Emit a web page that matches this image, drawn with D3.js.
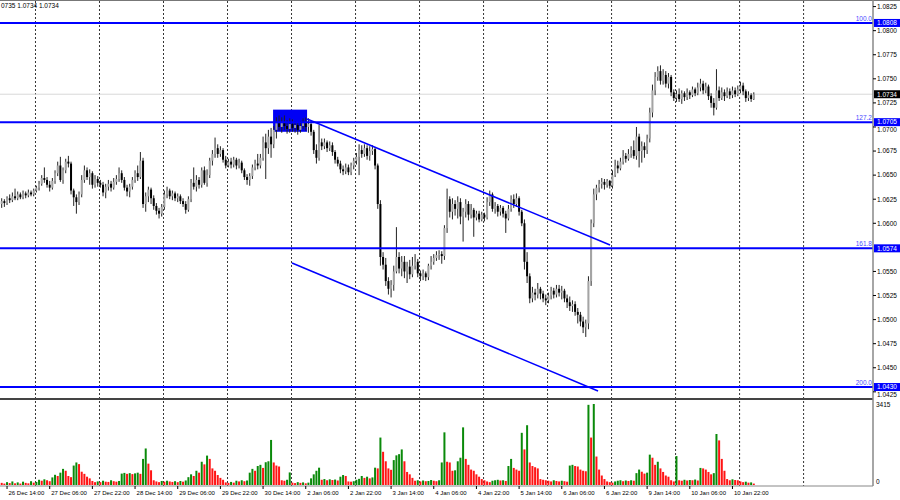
<!DOCTYPE html>
<html>
<head>
<meta charset="utf-8">
<script src="https://cdn.jsdelivr.net/npm/d3@7"></script>
<style>
body { margin: 0; background: #fff; }
svg { display: block; }
text { font-family: "Liberation Sans", Arial, sans-serif; }
</style>
</head>
<body>
<script>
// EURUSD H1, prices kept in pips above 1.0000 (623 -> 1.0623)
const open = [
620,623,621,626,624,628,626,630,627,631,629,632,630,634,637,641,647,645,640,637,
644,652,660,645,655,664,662,634,627,622,
630,645,655,648,652,640,646,642,640,632,
638,641,637,643,646,652,645,637,633,638,
645,652,648,665,620,628,635,626,618,613,
610,617,630,634,628,631,626,628,623,620,
614,625,642,638,645,640,655,642,650,665,
672,678,672,676,666,660,664,661,666,660,
663,655,648,645,649,658,662,660,668,684,
678,690,682,697,704,700,705,701,698,703,
699,702,697,701,704,700,703,695,676,668,
684,680,684,678,681,674,666,662,656,654,
658,653,660,665,669,676,672,678,670,675,
677,660,620,565,557,540,532,536,550,565,
553,560,550,555,547,556,560,548,545,548,
544,556,560,564,567,568,566,595,625,612,
620,615,622,607,612,620,609,614,606,610,
604,609,606,622,630,615,618,612,616,610,
605,615,625,620,626,612,600,560,545,522,
528,526,532,527,522,520,525,530,526,532,
528,530,522,518,514,516,508,505,498,492,
496,540,600,630,637,641,643,640,644,639,
650,660,657,664,670,667,672,676,670,690,
675,680,676,688,715,738,752,758,748,754,
745,752,736,730,734,729,735,731,736,733,
739,735,741,745,738,742,732,725,720,738,
730,736,732,737,733,738,734,739,743,737,
730,733,729];

const high = [
626,625,628,630,632,636,633,632,634,633,
635,634,636,639,644,650,658,648,644,647,
655,664,669,658,667,670,664,636,630,633,
650,660,658,656,654,650,649,645,643,641,
645,644,647,650,658,655,648,640,641,648,
655,660,674,668,632,638,637,629,621,616,
620,634,638,636,634,633,631,630,626,623,
628,646,658,650,648,658,659,656,668,676,
689,682,680,678,670,667,668,669,668,667,
665,657,651,652,661,666,672,672,690,693,
697,699,701,710,712,710,712,707,709,708,
706,705,706,709,710,709,706,697,682,702,
688,688,686,685,684,676,669,665,660,662,
661,663,668,673,682,681,682,681,680,681,
679,662,624,570,564,544,541,556,596,570,
566,566,560,562,565,568,563,551,552,550,
558,566,568,571,572,571,598,636,628,626,
624,628,626,616,625,623,620,616,613,613,
612,611,627,634,632,622,620,619,618,613,
619,629,630,631,628,614,604,570,548,534,
532,538,534,530,526,528,534,533,536,536,
535,532,526,524,520,519,512,508,503,500,
545,604,636,640,645,647,646,646,645,655,
666,665,668,676,673,677,680,686,700,693,
685,684,692,720,744,757,763,764,760,758,
756,754,739,738,740,738,737,740,738,742,
741,746,750,748,746,744,735,730,760,742,
741,739,741,740,742,741,743,747,746,739,
737,735,736];

const low = [
616,617,619,621,622,624,624,625,625,626,
627,628,628,632,634,639,642,637,633,635,
641,649,643,641,652,658,630,618,610,619,
627,642,645,640,636,637,638,637,628,626,
634,633,635,640,643,642,634,628,627,635,
642,644,646,616,612,622,620,614,609,605,
607,614,626,625,624,623,622,620,617,610,
612,622,635,633,636,637,640,638,647,660,
668,668,669,663,657,658,657,658,656,657,
652,645,640,639,646,655,656,657,665,646,
672,668,678,688,696,694,697,693,694,695,
694,692,694,698,696,694,691,672,662,665,
676,677,674,675,670,662,659,652,650,651,
650,650,656,661,650,668,669,666,665,671,
656,615,556,552,535,526,523,530,548,548,
545,543,538,542,544,552,544,540,541,540,
541,552,557,561,562,558,562,590,606,604,
608,605,599,581,606,603,605,586,603,601,
602,602,604,618,612,610,607,608,606,590,
603,612,616,617,608,597,552,538,517,518,
520,522,521,518,515,517,521,522,523,524,
521,518,512,509,508,504,496,493,486,482,
490,535,596,624,632,636,635,637,636,636,
648,652,655,661,663,665,668,667,666,658,
663,668,672,684,710,733,748,744,744,741,
740,732,727,726,726,724,727,728,729,731,
732,733,737,734,735,728,720,712,718,727,
728,727,730,729,730,731,732,735,733,726,
727,726,728];

const close = [
623,621,626,624,628,626,630,627,631,629,
632,630,634,637,641,647,645,640,637,644,
652,660,645,655,664,662,634,627,622,630,
645,655,648,652,640,646,642,640,632,638,
641,637,643,646,652,645,637,633,638,645,
652,648,665,620,628,635,626,618,613,610,
617,630,634,628,631,626,628,623,620,614,
625,642,638,645,640,655,642,650,665,672,
678,672,676,666,660,664,661,666,660,663,
655,648,645,649,658,662,660,668,684,678,
690,682,697,704,700,705,701,698,703,699,
702,697,701,704,700,703,695,676,668,684,
680,684,678,681,674,666,662,656,654,658,
653,660,665,669,676,672,678,670,675,677,
660,620,565,557,540,532,536,550,565,553,
560,550,555,547,556,560,548,545,548,544,
556,560,564,567,568,566,595,625,612,620,
615,622,607,612,620,609,614,606,610,604,
609,606,622,630,615,618,612,616,610,605,
615,625,620,626,612,600,560,545,522,528,
526,532,527,522,520,525,530,526,532,528,
530,522,518,514,516,508,505,498,492,496,
540,600,630,637,641,643,640,644,639,650,
660,657,664,670,667,672,676,670,690,675,
680,676,688,715,738,752,758,748,754,745,
752,736,730,734,729,735,731,736,733,739,
735,741,745,738,742,732,725,720,738,730,
736,732,737,733,738,734,739,743,737,730,
733,729,734];

const volume = [
90,60,120,80,150,70,110,60,140,90,
70,160,100,130,220,180,240,200,160,320,
430,380,520,680,600,380,330,820,950,880,
560,470,350,280,170,120,150,120,180,140,
130,200,160,140,170,480,510,470,500,460,
490,520,470,1100,1540,900,620,200,150,120,
170,140,180,150,130,160,120,170,140,190,
330,450,380,600,520,980,870,1240,1100,700,
600,420,300,220,110,90,130,100,180,150,
200,160,190,520,680,600,800,850,720,960,
1000,1900,950,820,780,200,180,220,530,100,
80,120,90,110,70,100,280,450,600,730,
220,250,200,240,210,230,190,350,420,380,
150,140,160,220,260,380,300,350,280,320,
730,700,2000,1400,1000,700,640,1050,1250,1300,
1500,1000,550,450,300,180,200,150,190,160,
170,210,180,160,200,950,2220,980,950,600,
620,1000,1150,2430,1100,850,650,600,450,350,
250,200,150,120,180,200,220,190,200,170,
800,1100,720,650,600,2200,1500,2520,950,800,
750,700,250,220,200,180,150,200,170,150,
180,160,140,820,850,800,780,650,600,580,
3380,2000,3415,1200,650,400,250,150,120,100,
150,180,200,160,190,170,200,180,500,650,
560,480,520,1280,1150,850,980,700,550,400,
350,200,150,1220,200,180,220,190,210,200,
230,190,720,700,650,550,450,500,2150,1880,
1100,600,250,200,240,210,200,150,120,140,
100,110,60];

// time labels every 16 bars starting at bar 2
const timeLabels = ["26 Dec 14:00","27 Dec 06:00","27 Dec 22:00","28 Dec 14:00","29 Dec 06:00",
  "29 Dec 22:00","30 Dec 14:00","2 Jan 06:00","2 Jan 22:00","3 Jan 14:00","4 Jan 06:00",
  "4 Jan 22:00","5 Jan 14:00","6 Jan 06:00","6 Jan 22:00","9 Jan 14:00","10 Jan 06:00","10 Jan 22:00"];

// fibo levels
const levels = [808, 705, 574, 430];
const levelNames = ["100.0", "127.2", "161.8", "200.0"];
const lastPrice = 734;
const volMax = 3415;

// objects: rectangle and channel (bar index, price)
const boxTime = [101.75, 114.5];
const boxPrice = [695, 718];
const upperLine = [[114.5, 708.3], [228.1, 577.5]];
const lowerLine = [[108.85, 558.8], [223.6, 425.9]];

const svg = d3.select("body").append("svg")
    .attr("width", 900)
    .attr("height", 500);

const axisX = 873;
const x = d3.scaleLinear().domain([0, 282]).range([1.7, 753.8]);
const y = d3.scaleLinear().domain([418.6, 830.8]).range([398, 1]);
const yv = d3.scaleLinear().domain([0, volMax]).range([485, 404]);
const fmt = v => (1 + v / 10000).toFixed(4);

svg.append("defs").append("clipPath").attr("id", "main")
    .append("rect").attr("x", 0).attr("y", 1).attr("width", axisX).attr("height", 397);

// vertical grid, every 24 bars
const gridIdx = d3.range(13).map(k => 12.67 + 24 * k);
svg.append("g").selectAll("line").data(gridIdx).join("line")
    .attr("x1", d => x(d)).attr("x2", d => x(d))
    .attr("y1", 1).attr("y2", 486)
    .attr("stroke", "#000").attr("stroke-width", 0.8)
    .attr("stroke-dasharray", "2,2");

const main = svg.append("g").attr("clip-path", "url(#main)");

// current price line
main.append("line")
    .attr("x1", 0).attr("x2", axisX)
    .attr("y1", y(lastPrice)).attr("y2", y(lastPrice))
    .attr("stroke", "#d8d8d8").attr("stroke-width", 1);

// rectangle (background)
main.append("rect")
    .attr("x", x(boxTime[0])).attr("width", x(boxTime[1]) - x(boxTime[0]))
    .attr("y", y(boxPrice[1])).attr("height", y(boxPrice[0]) - y(boxPrice[1]))
    .attr("fill", "#0000f5");

// candles
const idx = d3.range(close.length);
main.append("g").selectAll("line").data(idx).join("line")
    .attr("x1", i => x(i)).attr("x2", i => x(i))
    .attr("y1", i => y(high[i])).attr("y2", i => y(low[i]))
    .attr("stroke", "#222").attr("stroke-width", 1);

main.append("g").selectAll("rect").data(idx).join("rect")
    .attr("x", i => x(i) - 1)
    .attr("width", 2)
    .attr("y", i => y(Math.max(open[i], close[i])))
    .attr("height", i => Math.max(1, Math.abs(y(open[i]) - y(close[i]))))
    .attr("fill", i => close[i] >= open[i] ? "#a4a4a4" : "#000");

// horizontal levels
main.append("g").selectAll("line").data(levels).join("line")
    .attr("x1", 0).attr("x2", axisX)
    .attr("y1", d => y(d)).attr("y2", d => y(d))
    .attr("stroke", "#0000ff").attr("stroke-width", 2);

svg.append("g").selectAll("text").data(levels).join("text")
    .attr("x", axisX - 1).attr("y", d => y(d) - 2)
    .attr("text-anchor", "end")
    .attr("font-size", 6.5)
    .attr("fill", "#4a4aff")
    .text((d, i) => levelNames[i]);

// channel
const line = d3.line().x(d => x(d[0])).y(d => y(d[1]));
main.append("g").selectAll("path").data([upperLine, lowerLine]).join("path")
    .attr("d", line)
    .attr("fill", "none")
    .attr("stroke", "#0000ff").attr("stroke-width", 1.5);

// volumes: green if higher than previous bar
svg.append("g").selectAll("rect").data(idx).join("rect")
    .attr("x", i => x(i) - 1)
    .attr("width", 2)
    .attr("y", i => yv(volume[i]))
    .attr("height", i => yv(0) - yv(volume[i]))
    .attr("fill", i => i > 0 && volume[i] > volume[i - 1] ? "#0a8a0a" : "#ff1414");

// frame lines
svg.append("line").attr("x1", 0).attr("x2", 900).attr("y1", 0.5).attr("y2", 0.5)
    .attr("stroke", "#777").attr("stroke-width", 1);
svg.append("line").attr("x1", 0).attr("x2", axisX).attr("y1", 399).attr("y2", 399)
    .attr("stroke", "#444").attr("stroke-width", 2);
svg.append("line").attr("x1", 0).attr("x2", axisX).attr("y1", 486).attr("y2", 486)
    .attr("stroke", "#888").attr("stroke-width", 1);
svg.append("line").attr("x1", axisX).attr("x2", axisX).attr("y1", 0).attr("y2", 486)
    .attr("stroke", "#888").attr("stroke-width", 1.5);

// price axis; ticks hidden by a level box are dropped, near ones pushed clear
const boxes = levels.map(v => ({ v, bg: "#0000ff" })).concat([{ v: lastPrice, bg: "#000" }]);
const ticks = d3.range(425, 831, 25)
    .filter(d => !boxes.some(o => Math.abs(y(o.v) - y(d)) < 3));
const tickY = d => {
    const b = boxes.find(o => Math.abs(y(o.v) - y(d)) < 8);
    if (!b) return y(d) + 2.3;
    return y(d) > y(b.v) ? y(b.v) + 9.6 : y(b.v) - 4.6;
};
const pAxis = svg.append("g");
pAxis.selectAll("line").data(ticks).join("line")
    .attr("x1", axisX).attr("x2", axisX + 3)
    .attr("y1", d => y(d)).attr("y2", d => y(d))
    .attr("stroke", "#000");
pAxis.selectAll("text").data(ticks).join("text")
    .attr("x", axisX + 4).attr("y", tickY)
    .attr("font-size", 6.5)
    .attr("fill", "#000")
    .text(fmt);

// price boxes
const bx = svg.append("g").selectAll("g").data(boxes).join("g");
bx.append("rect")
    .attr("x", axisX + 1).attr("width", 26)
    .attr("y", d => y(d.v) - 4).attr("height", 8)
    .attr("fill", d => d.bg);
bx.append("text")
    .attr("x", axisX + 4).attr("y", d => y(d.v) + 2.3)
    .attr("font-size", 6.5)
    .attr("fill", "#fff")
    .text(d => fmt(d.v));

// volume axis
svg.append("text").attr("x", axisX + 3).attr("y", yv(volMax) + 2.5)
    .attr("font-size", 6.5).text(volMax);
svg.append("text").attr("x", axisX + 3).attr("y", yv(0) - 1)
    .attr("font-size", 6.5).text("0");

// time axis
const tIdx = timeLabels.map((d, k) => 2 + 16 * k);
const tAxis = svg.append("g");
tAxis.selectAll("line").data(tIdx).join("line")
    .attr("x1", d => x(d)).attr("x2", d => x(d))
    .attr("y1", 486).attr("y2", 489)
    .attr("stroke", "#000");
tAxis.selectAll("text").data(tIdx).join("text")
    .attr("x", d => x(d) + 1.5).attr("y", 494.5)
    .attr("font-size", 6)
    .text((d, k) => timeLabels[k]);

// top-left info
svg.append("text").attr("x", 1).attr("y", 8)
    .attr("font-size", 6.5)
    .text("0735 1.0734 1.0734");
</script>
</body>
</html>
